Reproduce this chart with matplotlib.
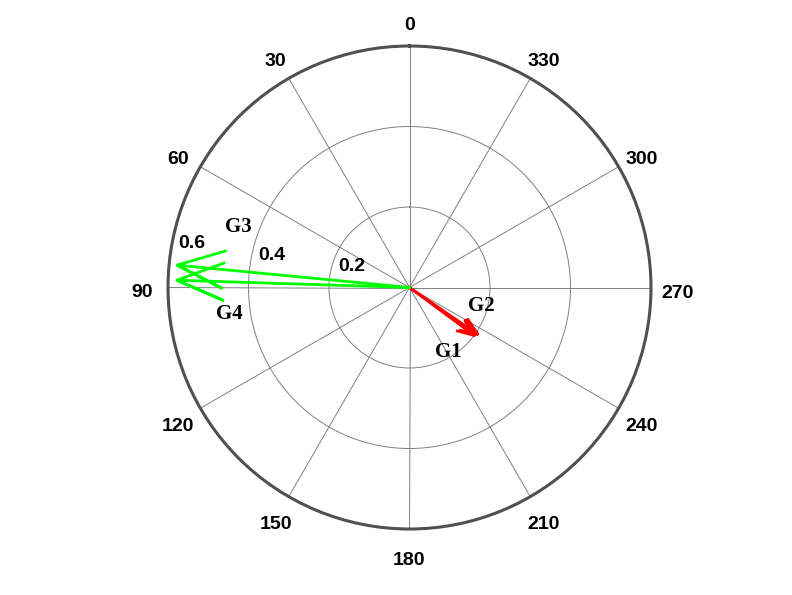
import numpy as np
import matplotlib
matplotlib.use("Agg")
import matplotlib.pyplot as plt

# phasor data (angle in degrees, magnitude)
names = ["G1", "G2", "G3", "G4"]
angles = [235.5, 233.5, 84.5, 88.2]
mags = [0.205, 0.200, 0.580, 0.578]
colors = ["#ff0000", "#ff0000", "#00ff00", "#00ff00"]
# label offsets from the arrow tip, in pixels
label_off = [(-43, -23), (-6, 24), (48, 33), (39, -39)]

theta_ticks = list(range(0, 360, 30))
r_ticks = [0.2, 0.4, 0.6]
r_max = 0.6

fig = plt.figure(figsize=(7.92, 5.95), dpi=100)
ax = fig.add_axes([168 / 792, 66 / 595, 483 / 792, 483 / 595], projection="polar")
ax.set_theta_zero_location("N")
ax.set_theta_direction(1)
ax.set_ylim(0, r_max)
ax.set_thetagrids(theta_ticks, labels=[""] * len(theta_ticks))
ax.set_rgrids(r_ticks, labels=[""] * len(r_ticks))
ax.grid(True, color="#808080", lw=0.7)
ax.spines["polar"].set_color("#505050")
ax.spines["polar"].set_linewidth(2.2)

# angle labels around the rim
for t in theta_ticks:
    ax.annotate(str(t), xy=(np.deg2rad(t), 0.665), xytext=(0, -10),
                textcoords="offset pixels", ha="center", va="baseline",
                fontsize=14, fontweight="bold", family="Liberation Sans",
                annotation_clip=False)

# radius labels
for r in r_ticks:
    ax.annotate(f"{r:g}", xy=(np.deg2rad(82), r), xytext=(8, 5.5),
                textcoords="offset pixels", ha="left", va="baseline",
                fontsize=14, fontweight="bold", family="Liberation Sans")

# compass-style arrows
shape = np.array([0, 1, 0.8 + 0.08j, 1, 0.8 - 0.08j])
for name, a, m, c, off in zip(names, angles, mags, colors, label_off):
    z = m * np.exp(1j * np.deg2rad(a)) * shape
    ax.plot(np.angle(z), np.abs(z), color=c, lw=2)
    ax.annotate(name, xy=(np.deg2rad(a), m), xytext=off,
                textcoords="offset pixels", ha="left", va="baseline",
                fontsize=15, fontweight="bold", family="Liberation Serif")

fig.savefig("out.png", dpi=100)
